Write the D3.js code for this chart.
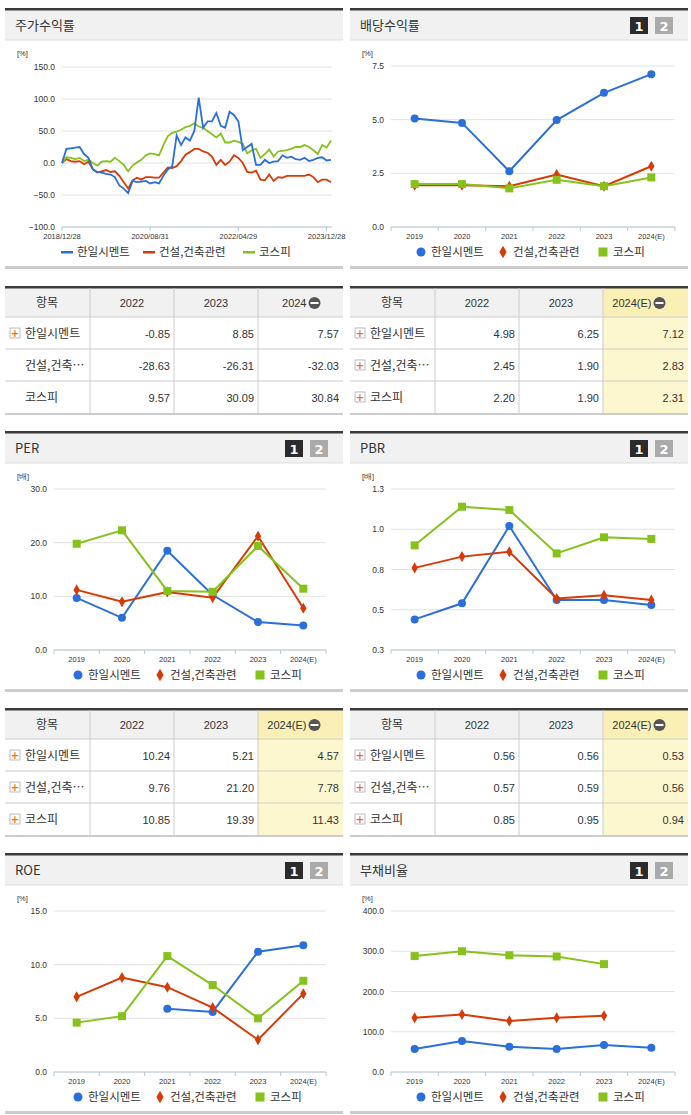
<!DOCTYPE html>
<html><head><meta charset="utf-8">
<script src="https://cdn.jsdelivr.net/npm/d3@7"></script>
<style>body{margin:0;background:#fff;font-family:"Noto Sans CJK KR",sans-serif}</style>
</head><body><svg id="c" width="691" height="1115"></svg>
<script>
var names = ['한일시멘트', '건설,건축관련', '코스피'];
var colors = ['#2a6fdb', '#d83a06', '#86c21b'];
var years = ['2019', '2020', '2021', '2022', '2023', '2024(E)'];

// 주가수익률 (monthly, from 2018/12)
var priceA = [0,22,23,24,25,14,8,-10,-14,-15,-17,-18,-22,-35,-40,-47,-28,-30,-29,-28,-32,-30,-32,-20,-10,-5,43,28,40,35,50,102,55,65,65,78,58,55,80,75,65,20,25,30,-3,-3,5,0,2,3,12,8,10,6,5,8,3,5,8,9,4,5];
var priceB = [0,6,3,2,3,-2,2,-10,-15,-13,-11,-14,-13,-20,-30,-40,-27,-23,-26,-22,-22,-23,-23,-15,-7,-8,-5,3,13,17,22,22,18,16,10,-3,5,-3,2,12,8,0,-14,-15,-12,-26,-27,-18,-28,-22,-23,-20,-20,-20,-20,-20,-18,-22,-30,-26,-26,-30];
var priceC = [0,9,8,6,8,3,5,0,-4,2,3,2,8,3,-3,-13,-4,1,5,12,15,14,12,28,42,47,49,52,56,58,62,57,55,50,45,40,46,32,32,35,33,30,15,20,22,8,14,21,10,18,19,20,22,25,25,28,25,20,14,28,24,35];
var priceTicks = [[0,'2018/12/28'],[20,'2020/08/31'],[40,'2022/04/29'],[60,'2023/12/28']];

var divA = [5.05,4.85,2.6,4.98,6.25,7.12], divB = [1.95,1.95,1.9,2.45,1.90,2.83], divC = [2.0,2.0,1.8,2.20,1.90,2.31];
var perA = [9.7,6,18.5,10.24,5.21,4.57], perB = [11.2,9,10.8,9.76,21.2,7.78], perC = [19.8,22.3,11,10.85,19.39,11.43];
var pbrA = [0.44,0.54,1.02,0.56,0.56,0.53], pbrB = [0.76,0.83,0.86,0.57,0.59,0.56], pbrC = [0.9,1.14,1.12,0.85,0.95,0.94];
var roeA = [null,null,5.9,5.6,11.2,11.8], roeB = [7,8.8,7.9,6,3,7.3], roeC = [4.6,5.2,10.8,8.1,5,8.5];
var debtA = [57,77,63,57,67,60], debtB = [135,143,127,135,140,null], debtC = [288,300,290,287,268,null];

var tblPrice = {head:['2022','2023','2024'], rows:[['-0.85','8.85','7.57'],['-28.63','-26.31','-32.03'],['9.57','30.09','30.84']], plus:[1,0,0], hl:false};
var tblDiv = {head:['2022','2023','2024(E)'], rows:[['4.98','6.25','7.12'],['2.45','1.90','2.83'],['2.20','1.90','2.31']], plus:[1,1,1], hl:true};
var tblPer = {head:['2022','2023','2024(E)'], rows:[['10.24','5.21','4.57'],['9.76','21.20','7.78'],['10.85','19.39','11.43']], plus:[1,1,1], hl:true};
var tblPbr = {head:['2022','2023','2024(E)'], rows:[['0.56','0.56','0.53'],['0.57','0.59','0.56'],['0.85','0.95','0.94']], plus:[1,1,1], hl:true};

var svg = d3.select('#c');
var F = '"Noto Sans CJK KR",sans-serif';

function card(x, y, title, badge) {
  var g = svg.append('g').attr('transform', 'translate(' + x + ',' + y + ')');
  g.append('rect').attr('width', 338).attr('height', 32).attr('fill', '#f1f1f1');
  g.append('rect').attr('width', 338).attr('height', 2.5).attr('fill', '#3a3a3a');
  g.append('line').attr('x1', 0).attr('x2', 338).attr('y1', 32).attr('y2', 32).attr('stroke', '#ddd');
  g.append('rect').attr('y', 258).attr('width', 338).attr('height', 3).attr('fill', '#ccc');
  g.append('text').attr('x', 10).attr('y', 22).attr('font-size', 13).attr('font-family', F).attr('fill', '#333').text(title);
  if (badge) {
    [['1', '#2b2b2b', 280], ['2', '#aaa', 305]].forEach(function (b) {
      g.append('rect').attr('x', b[2]).attr('y', 9).attr('width', 18).attr('height', 17).attr('fill', b[1]);
      g.append('text').attr('x', b[2] + 9).attr('y', 23).attr('text-anchor', 'middle').attr('font-size', 13).attr('font-weight', 'bold').attr('fill', '#fff').attr('font-family', 'DejaVu Sans').text(b[0]);
    });
  }
  return g;
}

function legend(g, cx, y, marks) {
  var widths = [82, 100, 50];
  var total = d3.sum(widths), x = cx - total / 2;
  names.forEach(function (n, i) {
    if (marks) mark(g, i, x + 6, y - 4, 4.5);
    else g.append('rect').attr('x', x).attr('y', y - 5).attr('width', 12).attr('height', 2.5).attr('fill', colors[i]);
    g.append('text').attr('x', x + 16).attr('y', y).attr('font-size', 11.5).attr('font-family', F).attr('fill', '#333').text(n);
    x += widths[i];
  });
}

function mark(g, i, x, y, r) {
  if (i === 0) g.append('circle').attr('cx', x).attr('cy', y).attr('r', r).attr('fill', colors[0]);
  else if (i === 1) g.append('path').attr('d', d3.symbol(d3.symbolDiamond, r * r * 2.2)()).attr('transform', 'translate(' + x + ',' + y + ')').attr('fill', colors[1]);
  else g.append('rect').attr('x', x - r).attr('y', y - r).attr('width', 2 * r).attr('height', 2 * r).attr('fill', colors[2]);
}

function yAxisGrid(g, y, ticks, fmt, x0, x1) {
  ticks.forEach(function (t) {
    g.append('line').attr('x1', x0).attr('x2', x1).attr('y1', y(t)).attr('y2', y(t)).attr('stroke', '#e2e2e2');
    g.append('text').attr('x', x0 - 7).attr('y', y(t) + 3).attr('text-anchor', 'end').attr('font-size', 8.5).attr('font-family', 'Liberation Sans').attr('fill', '#333').text(fmt(t));
  });
}

function lineChart(px, py, title, series, domain, ticks, fmt, unit, x0, x1) {
  var g = card(px, py, title, true);
  var top = 58, bot = 219;
  g.append('text').attr('x', 12).attr('y', 48).attr('font-size', 7.5).attr('font-family', 'Liberation Sans').attr('fill', '#333').text(unit);
  var y = d3.scaleLinear().domain(domain).range([bot, top]);
  var x = d3.scaleBand().domain(years).range([x0, x1]);
  yAxisGrid(g, y, ticks, fmt, x0, x1);
  g.append('line').attr('x1', x0).attr('x2', x1).attr('y1', bot).attr('y2', bot).attr('stroke', '#b8c8d8');
  years.forEach(function (yr, i) {
    g.append('line').attr('x1', x(yr)).attr('x2', x(yr)).attr('y1', bot).attr('y2', bot + 4).attr('stroke', '#b8c8d8');
    g.append('text').attr('x', x(yr) + x.bandwidth() / 2).attr('y', bot + 12).attr('text-anchor', 'middle').attr('font-size', 7.5).attr('font-family', 'Liberation Sans').attr('fill', '#333').text(yr);
  });
  g.append('line').attr('x1', x1).attr('x2', x1).attr('y1', bot).attr('y2', bot + 4).attr('stroke', '#b8c8d8');
  series.forEach(function (s, i) {
    var line = d3.line().defined(function (d) { return d != null; })
      .x(function (d, j) { return x(years[j]) + x.bandwidth() / 2; }).y(function (d) { return y(d); });
    g.append('path').attr('d', line(s)).attr('fill', 'none').attr('stroke', colors[i]).attr('stroke-width', 2);
    s.forEach(function (d, j) { if (d != null) mark(g, i, x(years[j]) + x.bandwidth() / 2, y(d), 4); });
  });
  legend(g, (x0 + x1) / 2 - 2, 248, true);
}

function priceChart(px, py) {
  var g = card(px, py, '주가수익률', false);
  var x0 = 57, x1 = 327, top = 59, bot = 219;
  g.append('text').attr('x', 12).attr('y', 48).attr('font-size', 7.5).attr('font-family', 'Liberation Sans').attr('fill', '#333').text('[%]');
  var y = d3.scaleLinear().domain([-100, 150]).range([bot, top]);
  var x = d3.scaleLinear().domain([0, 61]).range([x0, x1 - 1]);
  yAxisGrid(g, y, [-100, -50, 0, 50, 100, 150], d3.format('.1f'), x0, x1);
  g.append('line').attr('x1', x0).attr('x2', x1).attr('y1', bot).attr('y2', bot).attr('stroke', '#b8c8d8');
  priceTicks.forEach(function (t) {
    g.append('line').attr('x1', x(t[0])).attr('x2', x(t[0])).attr('y1', bot).attr('y2', bot + 4).attr('stroke', '#b8c8d8');
    g.append('text').attr('x', x(t[0])).attr('y', bot + 12).attr('text-anchor', 'middle').attr('font-size', 7.5).attr('font-family', 'Liberation Sans').attr('fill', '#333').text(t[1]);
  });
  [priceB, priceC, priceA].forEach(function (s, k) {
    var i = [1, 2, 0][k];
    var line = d3.line().x(function (d, j) { return x(j); }).y(function (d) { return y(d); });
    g.append('path').attr('d', line(s)).attr('fill', 'none').attr('stroke', colors[i]).attr('stroke-width', 1.8);
  });
  legend(g, 172, 248, false);
}

function table(px, py, t) {
  var g = svg.append('g').attr('transform', 'translate(' + px + ',' + py + ')');
  var cols = [0, 85, 169, 253, 338];
  g.append('rect').attr('width', 338).attr('height', 31).attr('fill', '#f1f1f1');
  if (t.hl) g.append('rect').attr('x', cols[3]).attr('width', 85).attr('height', 127).attr('fill', '#fdf7cf');
  if (t.hl) g.append('rect').attr('x', cols[3]).attr('width', 85).attr('height', 31).attr('fill', '#faf0b5');
  g.append('rect').attr('width', 338).attr('height', 2.5).attr('fill', '#3a3a3a');
  [31, 63, 95].forEach(function (yy) { g.append('line').attr('x1', 0).attr('x2', 338).attr('y1', yy).attr('y2', yy).attr('stroke', '#ccc'); });
  g.append('rect').attr('y', 127).attr('width', 338).attr('height', 2).attr('fill', '#ccc');
  [85, 169, 253].forEach(function (xx) { g.append('line').attr('x1', xx).attr('x2', xx).attr('y1', 2).attr('y2', 127).attr('stroke', '#ccc'); });
  g.append('text').attr('x', 42).attr('y', 21).attr('text-anchor', 'middle').attr('font-size', 12).attr('font-family', F).attr('fill', '#333').text('항목');
  t.head.forEach(function (h, i) {
    var cx = (cols[i + 1] + cols[i + 2]) / 2;
    if (i === 2) {
      g.append('text').attr('x', cx + 6).attr('y', 21).attr('text-anchor', 'end').attr('font-size', 11).attr('font-family', 'Liberation Sans').attr('fill', '#333').text(h);
      g.append('circle').attr('cx', cx + 14).attr('cy', 17).attr('r', 6).attr('fill', '#555');
      g.append('rect').attr('x', cx + 10).attr('y', 16).attr('width', 8).attr('height', 2).attr('fill', '#fff');
    } else {
      g.append('text').attr('x', cx).attr('y', 21).attr('text-anchor', 'middle').attr('font-size', 11).attr('font-family', 'Liberation Sans').attr('fill', '#333').text(h);
    }
  });
  var labels = ['한일시멘트', '건설,건축…', '코스피'];
  t.rows.forEach(function (r, ri) {
    var yy = 31 + ri * 32 + 21;
    if (t.plus[ri]) {
      g.append('rect').attr('x', 5).attr('y', yy - 10).attr('width', 10).attr('height', 10).attr('fill', '#fff').attr('stroke', '#bbb');
      g.append('text').attr('x', 10).attr('y', yy - 1.5).attr('text-anchor', 'middle').attr('font-size', 10).attr('font-weight', 'bold').attr('fill', '#f07020').attr('font-family', 'DejaVu Sans').text('+');
    }
    g.append('text').attr('x', 20).attr('y', yy).attr('font-size', 12).attr('font-family', F).attr('fill', '#333').text(labels[ri]);
    r.forEach(function (v, i) {
      g.append('text').attr('x', cols[i + 2] - 4).attr('y', yy).attr('text-anchor', 'end').attr('font-size', 11).attr('font-family', 'Liberation Sans').attr('fill', '#333').text(v);
    });
  });
}

var LX = 5, RX = 350;
priceChart(LX, 8);
lineChart(RX, 8, '배당수익률', [divA, divB, divC], [0, 7.5], [0, 2.5, 5, 7.5], d3.format('.1f'), '[%]', 41, 325);
table(LX, 286, tblPrice);
table(RX, 286, tblDiv);
lineChart(LX, 431, 'PER', [perA, perB, perC], [0, 30], [0, 10, 20, 30], d3.format('.1f'), '[배]', 49, 321);
lineChart(RX, 431, 'PBR', [pbrA, pbrB, pbrC], [0.25, 1.25], [0.25, 0.5, 0.75, 1.0, 1.25], function (v) { return (Math.round(v * 10 + 0.01) / 10).toFixed(1); }, '[배]', 41, 325);
table(LX, 708, tblPer);
table(RX, 708, tblPbr);
lineChart(LX, 853, 'ROE', [roeA, roeB, roeC], [0, 15], [0, 5, 10, 15], d3.format('.1f'), '[%]', 49, 321);
lineChart(RX, 853, '부채비율', [debtA, debtB, debtC], [0, 400], [0, 100, 200, 300, 400], d3.format('.1f'), '[%]', 41, 325);
</script></body></html>
